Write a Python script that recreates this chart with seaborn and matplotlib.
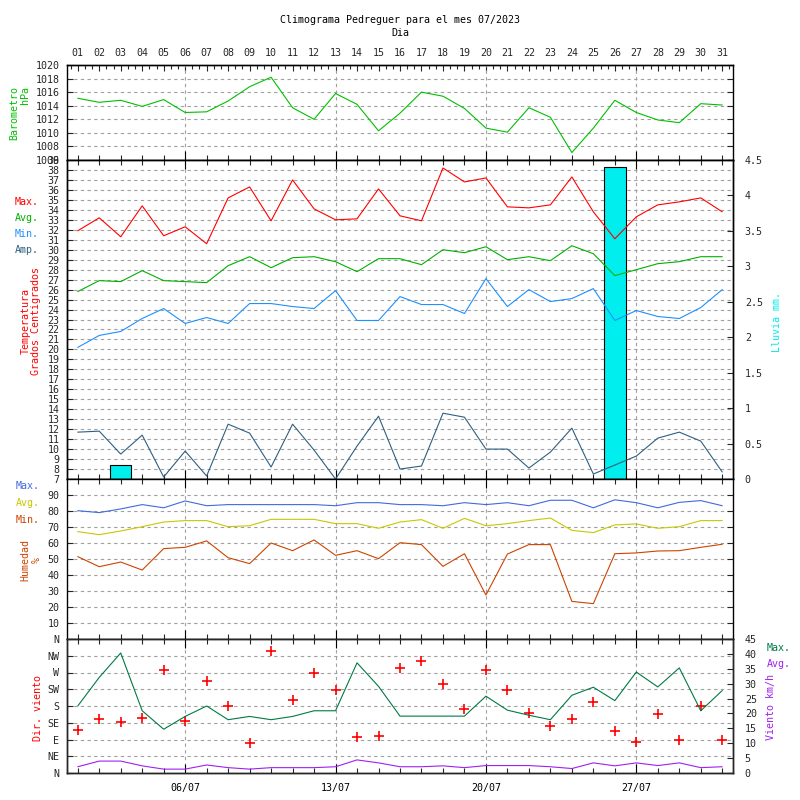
import numpy as np
import matplotlib
matplotlib.use('Agg')
import matplotlib.pyplot as plt
import seaborn as sns

# Datos del mes 07/2023
days = np.arange(1, 32)
day_labels = ['%02d' % d for d in days]
week_ticks = [6, 13, 20, 27]
week_labels = ['06/07', '13/07', '20/07', '27/07']

barometro = [1015.1, 1014.5, 1014.8, 1013.9, 1014.9, 1013.0, 1013.1, 1014.7, 1016.8, 1018.2,
             1013.7, 1012.0, 1015.8, 1014.2, 1010.3, 1012.9, 1016.0, 1015.4, 1013.6, 1010.7,
             1010.1, 1013.7, 1012.3, 1007.1, 1010.7, 1014.8, 1013.0, 1011.9, 1011.5, 1014.3, 1014.1]

t_max = [31.9, 33.2, 31.3, 34.4, 31.4, 32.3, 30.6, 35.2, 36.3, 32.9,
         37.0, 34.1, 33.0, 33.1, 36.1, 33.4, 32.9, 38.2, 36.8, 37.2,
         34.3, 34.2, 34.5, 37.3, 33.8, 31.1, 33.3, 34.5, 34.8, 35.2, 33.8]
t_avg = [25.8, 26.9, 26.8, 27.9, 26.9, 26.8, 26.7, 28.4, 29.3, 28.2,
         29.2, 29.3, 28.8, 27.8, 29.1, 29.1, 28.5, 30.0, 29.7, 30.3,
         29.0, 29.3, 28.9, 30.4, 29.6, 27.4, 28.0, 28.6, 28.8, 29.3, 29.3]
t_min = [20.2, 21.4, 21.8, 23.1, 24.1, 22.6, 23.2, 22.6, 24.6, 24.6,
         24.3, 24.1, 25.9, 22.9, 22.9, 25.3, 24.5, 24.5, 23.6, 27.1,
         24.3, 26.0, 24.8, 25.1, 26.1, 22.9, 23.9, 23.3, 23.1, 24.2, 26.0]
t_amp = [11.7, 11.8, 9.5, 11.4, 7.2, 9.8, 7.3, 12.5, 11.6, 8.2,
         12.5, 9.9, 7.0, 10.3, 13.3, 8.0, 8.3, 13.6, 13.2, 10.0,
         10.0, 8.1, 9.7, 12.1, 7.5, 8.4, 9.3, 11.1, 11.7, 10.8, 7.7]
lluvia = [0, 0, 0.2, 0, 0, 0, 0, 0, 0, 0, 0, 0, 0, 0, 0, 0,
          0, 0, 0, 0, 0, 0, 0, 0, 0, 4.4, 0, 0, 0, 0, 0]

h_max = [80.2, 79.0, 81.3, 84.0, 82.0, 86.3, 83.3, 84.0, 84.0, 84.0,
         84.0, 84.0, 83.3, 85.2, 85.2, 84.0, 84.0, 83.3, 85.2, 84.0,
         85.2, 83.3, 86.7, 86.7, 82.0, 87.0, 85.2, 82.0, 85.4, 86.5, 83.3]
h_avg = [67.1, 65.2, 67.5, 70.2, 73.1, 74.0, 74.0, 70.2, 70.8, 74.8,
         74.8, 74.8, 72.1, 72.1, 69.2, 73.1, 74.6, 69.2, 75.4, 70.8,
         72.1, 74.0, 75.6, 67.9, 66.5, 71.3, 71.9, 69.2, 70.2, 74.0, 74.0]
h_min = [51.5, 45.2, 48.1, 43.1, 56.5, 57.3, 61.3, 50.8, 47.1, 60.0,
         55.2, 61.9, 52.3, 55.2, 50.2, 60.2, 59.0, 45.4, 53.3, 27.5,
         53.1, 59.0, 59.0, 23.5, 22.1, 53.3, 53.8, 55.0, 55.2, 57.3, 59.2]

dir_viento = [115, 145, 138, 148, 277, 141, 247, 180, 81, 328,
              196, 269, 222, 97, 99, 282, 302, 239, 172, 277,
              223, 161, 125, 145, 192, 114, 82, 158, 90, 181, 90]
v_max = [22.5, 32.1, 40.3, 20.9, 14.7, 19.0, 22.5, 17.9, 19.0, 17.9,
         19.0, 20.9, 20.9, 37.0, 29.1, 19.1, 19.1, 19.1, 19.1, 25.8,
         21.1, 19.4, 17.9, 26.1, 28.8, 24.3, 33.9, 28.9, 35.3, 20.9, 27.7]
v_avg = [2.1, 4.0, 4.0, 2.4, 1.3, 1.3, 2.7, 1.8, 1.3, 1.8,
         1.8, 1.8, 2.1, 4.4, 3.4, 2.1, 2.1, 2.4, 1.8, 2.5,
         2.5, 2.5, 2.1, 1.5, 3.4, 2.4, 3.4, 2.5, 3.4, 1.8, 2.1]
dir_ticks = [0, 45, 90, 135, 180, 225, 270, 315, 360]
dir_labels = ['N', 'NE', 'E', 'SE', 'S', 'SW', 'W', 'NW', 'N']

sns.set_theme(style='white')
plt.rcParams['font.family'] = ['DejaVu Sans Mono']
plt.rcParams['font.size'] = 7.2

FS = 7.2
GRID = dict(color='#a0a0a0', linestyle=(0, (3, 3)), linewidth=0.8)
LW = 0.8

fig = plt.figure(figsize=(8, 8), dpi=100)
L, W = 67 / 800, 666 / 800


def panel(top_px, bot_px):
    ax = fig.add_axes([L, 1 - bot_px / 800, W, (bot_px - top_px) / 800])
    ax.set_xlim(0.5, 31.5)
    ax.set_xticks(week_ticks)
    ax.set_xticks(days, minor=True)
    ax.tick_params(axis='x', which='major', direction='in', length=6.5, width=0.8,
                   top=True, bottom=True, labelbottom=False, colors='black')
    ax.tick_params(axis='x', which='minor', direction='in', length=3.6, width=0.8,
                   top=True, bottom=True)
    ax.tick_params(axis='y', which='major', direction='in', length=4.3, width=0.8,
                   left=True, right=True, labelsize=FS, pad=5.5)
    ax.grid(True, which='major', **GRID)
    for s in ax.spines.values():
        s.set_linewidth(1.0)
        s.set_color('black')
    ax.set_facecolor('white')
    return ax


# Barometro
ax_b = panel(65, 160)
sns.lineplot(x=days, y=barometro, ax=ax_b, color='#00c000', lw=LW)
ax_b.set_ylim(1006, 1020)
ax_b.set_yticks(range(1006, 1021, 2))
ax_b.tick_params(axis='x', which='both', top=False)
sec = ax_b.secondary_xaxis('top')
sec.set_xticks(days, labels=day_labels)
sec.set_xticks(np.arange(2 / 3, 31.4, 1 / 3), minor=True)
sec.tick_params(which='major', direction='in', length=4.3, width=0.8, pad=5, labelsize=FS)
sec.tick_params(which='minor', direction='in', length=2.6, width=0.8)
sec.spines['top'].set_linewidth(1.0)

# Temperatura + lluvia
ax_t = panel(160, 479)
ax_r = ax_t.twinx()
ax_r.set_ylim(0, 4.5)
ax_r.set_yticks(np.arange(0, 4.51, 0.5))
ax_r.set_yticklabels(['%g' % v for v in np.arange(0, 4.51, 0.5)])
ax_r.tick_params(axis='y', direction='in', length=4.3, width=0.8, labelsize=FS, pad=8.5)
for s in ax_r.spines.values():
    s.set_linewidth(1.0)
    s.set_color('black')
ax_t.bar(days, lluvia, width=1.0, color='#00eeee', edgecolor='black', linewidth=0.8,
         transform=ax_r.transData, zorder=1)
sns.lineplot(x=days, y=t_max, ax=ax_t, color='#ff0000', lw=LW, zorder=3)
sns.lineplot(x=days, y=t_avg, ax=ax_t, color='#00b000', lw=LW, zorder=3)
sns.lineplot(x=days, y=t_min, ax=ax_t, color='#1e90ff', lw=LW, zorder=3)
sns.lineplot(x=days, y=t_amp, ax=ax_t, color='#2f5f80', lw=LW, zorder=3)
ax_t.set_ylim(7, 39)
ax_t.set_yticks(range(7, 40))
ax_t.tick_params(axis='y', right=False)
ax_r.tick_params(axis='y', which='both', right=True)
ax_r.set_yticks([], minor=True)
ax_t.set_xlim(0.5, 31.5)

# Humedad
ax_h = panel(479, 639)
sns.lineplot(x=days, y=h_max, ax=ax_h, color='#4169e1', lw=LW)
sns.lineplot(x=days, y=h_avg, ax=ax_h, color='#c8c800', lw=LW)
sns.lineplot(x=days, y=h_min, ax=ax_h, color='#cc4400', lw=LW)
ax_h.set_ylim(0, 100)
ax_h.set_yticks(range(10, 100, 10))

# Viento
ax_w = panel(639, 773)
sns.scatterplot(x=days, y=dir_viento, ax=ax_w, marker='+', color='#ff0000', s=45,
                linewidth=1.2, zorder=3)
ax_w.set_ylim(0, 360)
ax_w.set_yticks(dir_ticks, labels=dir_labels)
ax_w.tick_params(axis='x', which='major', labelbottom=True, pad=7, labelsize=FS)
ax_w.set_xticks(week_ticks, labels=week_labels)
ax_v = ax_w.twinx()
sns.lineplot(x=days, y=v_max, ax=ax_v, color='#007a45', lw=LW)
sns.lineplot(x=days, y=v_avg, ax=ax_v, color='#a020f0', lw=LW)
ax_v.set_ylim(0, 45)
ax_v.set_yticks(range(0, 46, 5))
ax_v.tick_params(axis='y', direction='in', length=4.3, width=0.8, labelsize=FS, pad=8.5)
ax_w.tick_params(axis='y', right=False)
ax_v.set_xlim(0.5, 31.5)
for s in ax_v.spines.values():
    s.set_linewidth(1.0)

for a in (ax_b, ax_t, ax_h, ax_w, ax_r, ax_v):
    a.set_xlabel('')
    a.set_ylabel('')

# Textos
def ftxt(x, y, s, color='black', **kw):
    fig.text(x / 800, 1 - y / 800, s, color=color, fontsize=FS, **kw)

ftxt(400, 20, 'Climograma Pedreguer para el mes 07/2023', ha='center', va='center')
ftxt(400, 33, 'Dia', ha='center', va='center')

ftxt(20, 113, 'Barometro\nhPa', color='#00c000', ha='center', va='center',
     rotation=90, multialignment='right', linespacing=1.1)

ftxt(15, 202, 'Max.', color='#ff0000', va='center')
ftxt(15, 218, 'Avg.', color='#00b000', va='center')
ftxt(15, 234, 'Min.', color='#1e90ff', va='center')
ftxt(15, 250, 'Amp.', color='#2f5f80', va='center')
ftxt(31, 321, 'Temperatura\nGrados Centigrados', color='#ff0000', ha='center', va='center',
     rotation=90, linespacing=1.1)
ftxt(777, 322, 'Lluvia mm.', color='#00eeee', ha='center', va='center', rotation=90)

ftxt(16, 486, 'Max.', color='#4169e1', va='center')
ftxt(16, 503, 'Avg.', color='#c8c800', va='center')
ftxt(16, 520, 'Min.', color='#cc4400', va='center')
ftxt(31, 560, 'Humedad\n%', color='#cc4400', ha='center', va='center', rotation=90,
     linespacing=1.1)

ftxt(38, 708, 'Dir. viento', color='#ff0000', ha='center', va='center', rotation=90)
ftxt(767, 648, 'Max.', color='#007a45', va='center')
ftxt(767, 664, 'Avg.', color='#a020f0', va='center')
ftxt(771, 707, 'Viento km/h', color='#a020f0', ha='center', va='center', rotation=90)

fig.savefig('out.png', dpi=100)
